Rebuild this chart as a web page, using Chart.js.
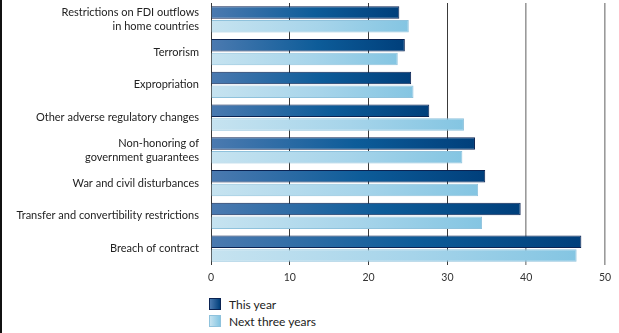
<!DOCTYPE html>
<html>
<head>
<meta charset="utf-8">
<script src="https://cdn.jsdelivr.net/npm/chart.js@4.4.1/dist/chart.umd.min.js"></script>
<style>
  body { margin: 0; background: #fff; }
  #wrap { position: relative; width: 619px; height: 333px; overflow: hidden; }
  #edge { position: absolute; left: 0; top: 0; width: 2px; height: 333px; background: #111; }
  #chartBox { position: absolute; left: 0; top: 0; width: 619px; height: 290px; }
  #legend { position: absolute; left: 209px; top: 298px; font-family: Lato, "Open Sans", sans-serif; font-size: 12px; color: #222; }
  #legend div { height: 17px; line-height: 13px; }
  #legend span.sw { display: inline-block; width: 12px; height: 12px; vertical-align: top; margin-right: 8px; box-sizing: border-box; }
</style>
</head>
<body>
<div id="wrap">
  <div id="edge"></div>
  <div id="chartBox"><canvas id="riskChart"></canvas></div>
  <div id="legend"></div>
</div>
<script>
var categories = [
  ['Restrictions on FDI outflows', 'in home countries'],
  'Terrorism',
  'Expropriation',
  'Other adverse regulatory changes',
  ['Non-honoring of', 'government guarantees'],
  'War and civil disturbances',
  'Transfer and convertibility restrictions',
  'Breach of contract'
];
var thisYear = [23.9, 24.6, 25.4, 27.7, 33.5, 34.8, 39.3, 47.0];
var nextThreeYears = [25.1, 23.7, 25.7, 32.1, 31.9, 33.9, 34.4, 46.4];
var xTicks = [0, 10, 20, 30, 40, 50];

var darkStops = ['#4b7ab0', '#0d5c99', '#003f7b'];
var lightStops = ['#c6e3f0', '#a6d4ea', '#84c5e2'];

function barGradient(stops) {
  return function (ctx) {
    var chart = ctx.chart;
    if (!chart.chartArea || ctx.parsed == null) return stops[1];
    var sx = chart.scales.x;
    var x0 = sx.getPixelForValue(0);
    var x1 = sx.getPixelForValue(ctx.parsed.x);
    if (x1 - x0 < 1) x1 = x0 + 1;
    var g = chart.ctx.createLinearGradient(x0, 0, x1, 0);
    g.addColorStop(0, stops[0]);
    g.addColorStop(0.55, stops[1]);
    g.addColorStop(1, stops[2]);
    return g;
  };
}

var ctx = document.getElementById('riskChart');
var myChart = new Chart(ctx, {
  type: 'bar',
  data: {
    labels: categories,
    datasets: [{
      label: 'This year',
      data: thisYear,
      backgroundColor: barGradient(darkStops),
      borderColor: '#0b2352',
      borderWidth: 1
    }, {
      label: 'Next three years',
      data: nextThreeYears,
      backgroundColor: barGradient(lightStops),
      borderColor: '#8fc2dc',
      borderWidth: 1
    }]
  },
  options: {
    indexAxis: 'y',
    responsive: true,
    maintainAspectRatio: false,
    animation: false,
    categoryPercentage: 0.84,
    barPercentage: 0.9,
    layout: { padding: { left: 0, right: 14, top: 3, bottom: 0 } },
    plugins: {
      legend: { display: false },
      tooltip: { enabled: false }
    },
    scales: {
      x: {
        min: 0,
        max: 50,
        afterBuildTicks: function (axis) {
          axis.ticks = xTicks.map(function (v) { return { value: v }; });
        },
        afterFit: function (axis) { axis.height = 25; },
        border: { display: false },
        grid: {
          drawTicks: false,
          color: function (c) { return c.tick && c.tick.value > 30 ? '#9a9a9a' : '#3a3a3a'; },
          lineWidth: function (c) { return c.tick && c.tick.value > 30 ? 1.6 : 1; }
        },
        ticks: {
          padding: 6,
          color: '#333',
          font: { family: 'Lato, "Open Sans", sans-serif', size: 10.5 }
        }
      },
      y: {
        afterFit: function (axis) {
          axis.width = 211;
          axis.paddingTop = 0;
          axis.paddingBottom = 0;
        },
        border: { display: false },
        grid: { display: false },
        ticks: {
          padding: 4,
          color: '#222',
          font: { family: 'Lato, "Open Sans", sans-serif', size: 11, lineHeight: 1.2 }
        }
      }
    }
  }
});

// simple vertical legend under the chart
var legendBox = document.getElementById('legend');
var swatches = [
  { bg: 'linear-gradient(to right,#4b7ab0,#003f7b)', border: '#0b2352' },
  { bg: 'linear-gradient(to right,#c6e3f0,#84c5e2)', border: '#8fc2dc' }
];
myChart.data.datasets.forEach(function (ds, i) {
  var row = document.createElement('div');
  var sw = document.createElement('span');
  sw.className = 'sw';
  sw.style.background = swatches[i].bg;
  sw.style.border = '1px solid ' + swatches[i].border;
  row.appendChild(sw);
  row.appendChild(document.createTextNode(ds.label));
  legendBox.appendChild(row);
});
</script>
</body>
</html>
